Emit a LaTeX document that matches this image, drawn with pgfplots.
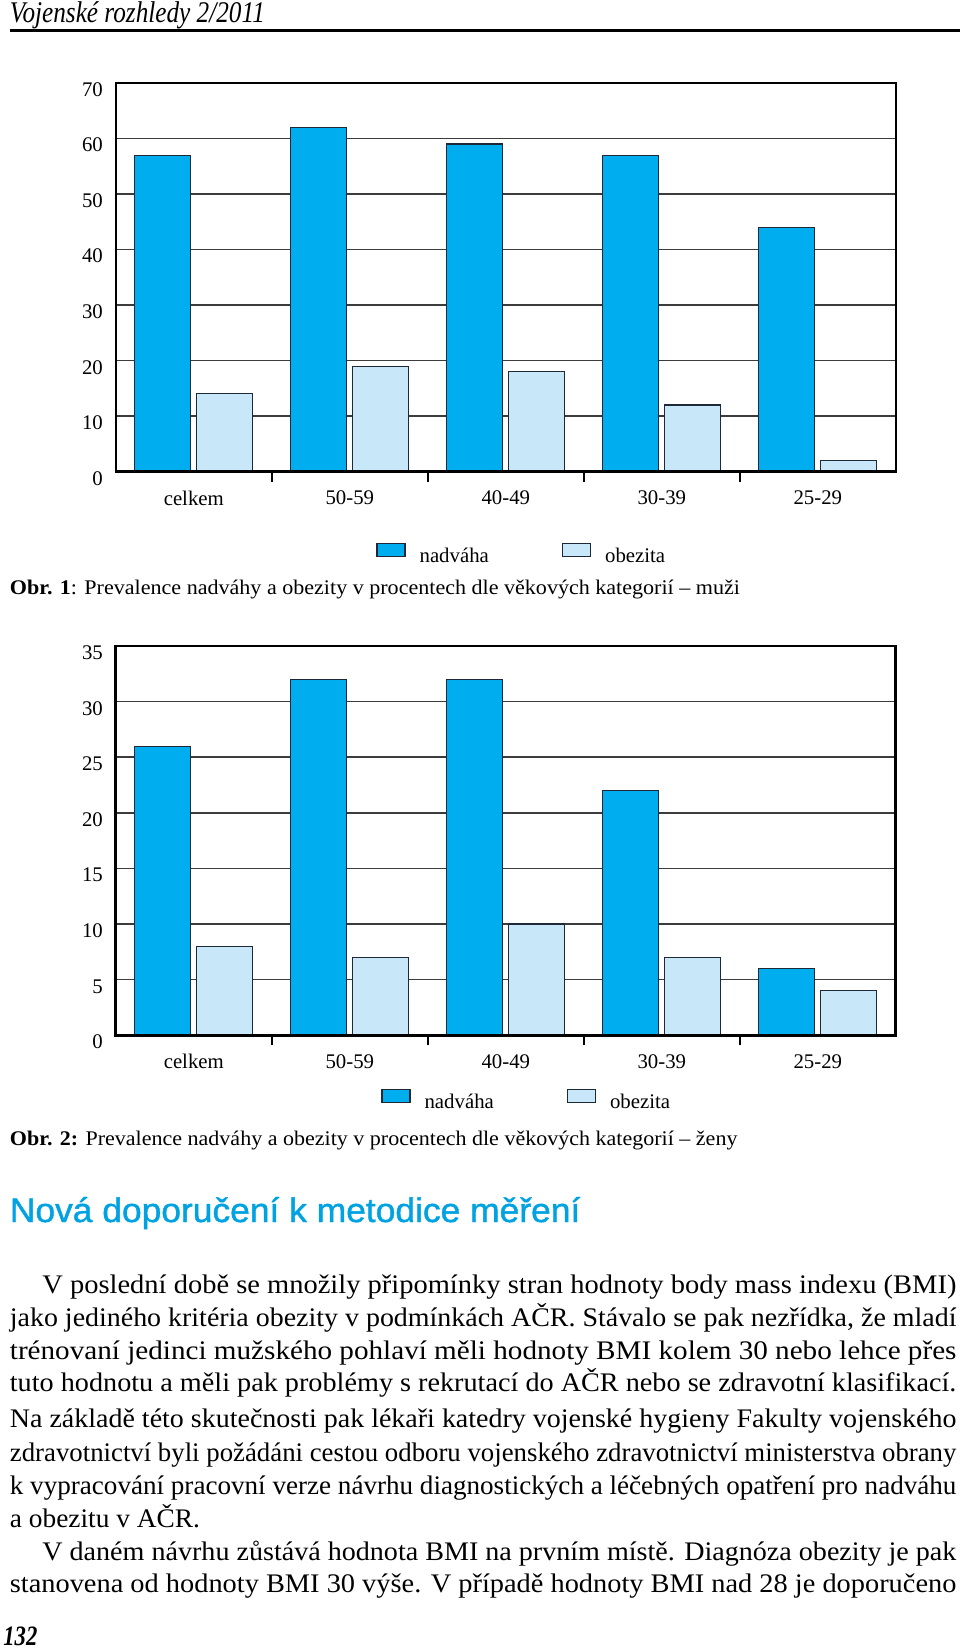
\documentclass[border=0pt]{standalone}
\usepackage{fontspec}
\setmainfont{Liberation Serif}
\newfontfamily\headsans[FakeBold=1.2]{Liberation Sans}
\usepackage{graphicx}
\usepackage{pgfplots}
\pgfplotsset{compat=1.18}
\definecolor{nadv}{RGB}{0,174,239}
\definecolor{obez}{RGB}{200,232,249}
\definecolor{edge}{RGB}{30,40,55}
\definecolor{gridc}{RGB}{60,60,60}
\definecolor{headc}{RGB}{0,162,226}
\newcommand\chartfont{\fontsize{10.4pt}{12pt}\selectfont}
\newcommand\bodyfont{\fontsize{13.4pt}{15pt}\selectfont}
\newcommand\captfont{\fontsize{10.4pt}{12pt}\selectfont}
\newcommand\bline[4]{\node[anchor=base west, inner sep=0pt] at (#1,#2) {\resizebox{#3pt}{\height}{\bodyfont #4}};}
\pgfplotsset{
  swatch/.style={legend image code/.code={\draw[##1, line width=0.6pt] (0pt,0.3pt) rectangle (14pt,6.8pt);}},
  agechart/.style={
    scale only axis, width=390pt,
    xmin=-0.5, xmax=4.5, ymin=0,
    axis line style={line width=1.2pt, black},
    xtick={0,...,4},
    xticklabels={celkem,50-59,40-49,30-39,25-29},
    xtick pos=left, ytick pos=left,
    major tick length=0pt,
    ymajorgrids, xmajorgrids=false,
    major grid style={line width=0.75pt, gridc},
    /pgf/number format/assume math mode=true,
    tick label style={font=\chartfont},
    yticklabel style={anchor=east, inner sep=0pt, xshift=-6.3pt, yshift=-3.3pt},
    xticklabel style={anchor=north, inner sep=0pt, yshift=-9.3pt},
    extra x ticks={0.5,1.5,2.5,3.5},
    extra x tick labels={},
    extra x tick style={grid=none, major tick length=5pt, tick style={line width=1.1pt, black}},
    ybar=3pt, bar width=28pt,
    legend columns=2,
    legend style={draw=none, fill=none, inner sep=0pt, font=\chartfont,
      /tikz/every odd column/.style={column sep=5pt},
      /tikz/every even column/.style={column sep=34.5pt},
      cells={anchor=west}},
  },
}
\begin{document}
\begin{tikzpicture}
\path[use as bounding box] (0pt,0pt) rectangle (480pt,-825pt);
% chart 1
\begin{axis}[agechart, at={(57.9pt,-235.8pt)}, anchor=south west,
  height=194.3pt, ymax=70, ytick={0,10,...,70},
  legend style={at={(0.3336,-0.2172)}, anchor=west}]
\addplot[fill=nadv, draw=edge, line width=0.6pt, swatch] coordinates {(0,57) (1,62) (2,59) (3,57) (4,44)};
\addplot[fill=obez, draw=edge, line width=0.6pt, swatch] coordinates {(0,14) (1,19) (2,18) (3,12) (4,2)};
\legend{nadváha, obezita}
\draw[line width=1.8pt, black] (rel axis cs:0,0) -- (rel axis cs:1,0);
\end{axis}
% chart 2
\begin{axis}[agechart, at={(57.9pt,-517.65pt)}, anchor=south west,
  height=194.65pt, ymax=35, ytick={0,5,...,35},
  axis line style={line width=1.4pt, black},
  legend style={at={(0.3400,-0.1713)}, anchor=west}]
\addplot[fill=nadv, draw=edge, line width=0.6pt, swatch] coordinates {(0,26) (1,32) (2,32) (3,22) (4,6)};
\addplot[fill=obez, draw=edge, line width=0.6pt, swatch] coordinates {(0,8) (1,7) (2,10) (3,7) (4,4)};
\legend{nadváha, obezita}
\draw[line width=1.8pt, black] (rel axis cs:0,0) -- (rel axis cs:1,0);
\end{axis}
\begin{scope}[x=0.5pt, y=-0.5pt]
\node[anchor=base west, inner sep=0pt] at (9.5,22.5) {\resizebox{127.5pt}{\height}{\fontsize{15pt}{17pt}\selectfont\itshape Vojenské rozhledy 2/2011}};
\draw[line width=1.25pt] (9.5,30.5) -- (960,30.5);
\node[anchor=base west, inner sep=0pt] at (9.5,594) {\resizebox{365pt}{\height}{\captfont\textbf{Obr. 1}: Prevalence nadváhy a obezity v procentech dle věkových kategorií – muži}};
\node[anchor=base west, inner sep=0pt] at (9.5,1145) {\resizebox{363.75pt}{\height}{\captfont\textbf{Obr. 2:} Prevalence nadváhy a obezity v procentech dle věkových kategorií – ženy}};
\node[anchor=base west, inner sep=0pt] at (9.5,1222) {\resizebox{285.25pt}{\height}{\headsans\fontsize{17pt}{20pt}\selectfont\color{headc}Nová doporučení k metodice měření}};
\bline{42}{1293}{457}{V poslední době se množily připomínky stran hodnoty body mass indexu (BMI)}
\bline{9.5}{1326}{473.25}{jako jediného kritéria obezity v podmínkách AČR. Stávalo se pak nezřídka, že mladí}
\bline{9.5}{1359}{473.25}{trénovaní jedinci mužského pohlaví měli hodnoty BMI kolem 30 nebo lehce přes}
\bline{9.5}{1391}{473.25}{tuto hodnotu a měli pak problémy s rekrutací do AČR nebo se zdravotní klasifikací.}
\bline{9.5}{1427}{473.25}{Na základě této skutečnosti pak lékaři katedry vojenské hygieny Fakulty vojenského}
\bline{9.5}{1461}{473.25}{zdravotnictví byli požádáni cestou odboru vojenského zdravotnictví ministerstva obrany}
\bline{9.5}{1494}{473.25}{k vypracování pracovní verze návrhu diagnostických a léčebných opatření pro nadváhu}
\bline{9.5}{1527}{95}{a obezitu v AČR.}
\bline{42}{1560}{457}{V daném návrhu zůstává hodnota BMI na prvním místě. Diagnóza obezity je pak}
\bline{9.5}{1592}{473.25}{stanovena od hodnoty BMI 30 výše. V případě hodnoty BMI nad 28 je doporučeno}
\node[anchor=base west, inner sep=0pt] at (3,1645.5) {\resizebox{17pt}{\height}{\fontsize{14pt}{16pt}\selectfont\bfseries\itshape 132}};
\end{scope}
\end{tikzpicture}
\end{document}
